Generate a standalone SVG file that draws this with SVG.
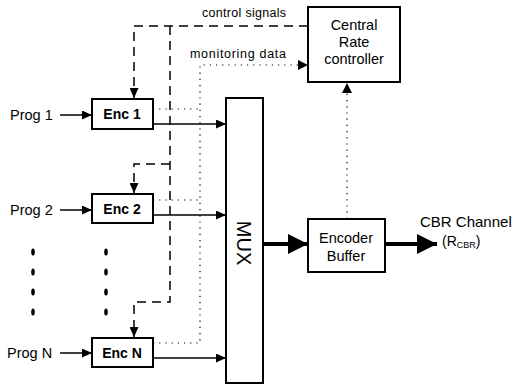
<svg xmlns="http://www.w3.org/2000/svg" width="513" height="386" viewBox="0 0 513 386">
<defs>
<style>
.box{fill:#fff;stroke:#000;stroke-width:2}
.t{font-family:"Liberation Sans",Arial,sans-serif;fill:#000}
.enc{font-size:14px;font-weight:bold;text-anchor:middle}
.prog{font-size:14.5px}
.small{font-size:12.5px}
.mid{font-size:14.5px;text-anchor:middle}
.solid{stroke:#000;stroke-width:1.5;fill:none}
.thick{stroke:#000;stroke-width:4;fill:none}
.dash{stroke:#000;stroke-width:1.5;fill:none;stroke-dasharray:9 6}
.dot{stroke:#000;stroke-width:1.2;fill:none;stroke-dasharray:1.2 5}
</style>
<marker id="ah" markerWidth="10" markerHeight="9" refX="10" refY="4.5" orient="auto" markerUnits="userSpaceOnUse"><path d="M0,0 L10,4.5 L0,9 z" fill="#000"/></marker>
<marker id="big" markerWidth="20" markerHeight="20" refX="20" refY="10" orient="auto" markerUnits="userSpaceOnUse"><path d="M0,0 L20,10 L0,20 z" fill="#000"/></marker>
</defs>
<g id="connectors">
<line class="solid" x1="60" y1="115" x2="92" y2="115" marker-end="url(#ah)"/>
<line class="solid" x1="60" y1="210" x2="92" y2="210" marker-end="url(#ah)"/>
<line class="solid" x1="60" y1="353" x2="92" y2="353" marker-end="url(#ah)"/>
<line class="solid" x1="153" y1="124" x2="226" y2="124" marker-end="url(#ah)"/>
<line class="solid" x1="153" y1="215" x2="226" y2="215" marker-end="url(#ah)"/>
<line class="solid" x1="153" y1="358" x2="226" y2="358" marker-end="url(#ah)"/>
<path class="dash" d="M308,26 L134,26 L134,98" marker-end="url(#ah)"/>
<path class="dash" d="M170,26 L170,302 L134,302 L134,337" marker-end="url(#ah)"/>
<path class="dash" d="M170,164 L134,164 L134,193" marker-end="url(#ah)"/>
<path class="dot" d="M153,109 L200,109"/>
<path class="dot" d="M153,200 L200,200"/>
<path class="dot" d="M153,343 L200,343 L200,65 L300,65"/>
<path d="M298,60 L308,65 L298,70 z" fill="#000"/>
<path class="dot" d="M347,219 L347,92"/>
<path d="M342,93 L347,83 L352,93 z" fill="#000"/>
<line class="thick" x1="263" y1="244" x2="308" y2="244" marker-end="url(#big)"/>
<line class="thick" x1="385" y1="244" x2="437" y2="244" marker-end="url(#big)"/>
</g>
<g id="prog1"><text class="t prog" x="10" y="120">Prog 1</text></g>
<g id="prog2"><text class="t prog" x="10" y="215">Prog 2</text></g>
<g id="progN"><text class="t prog" x="7" y="358">Prog N</text></g>
<g id="enc1"><rect class="box" x="92" y="99" width="61" height="30"/><text class="t enc" x="122" y="119">Enc 1</text></g>
<g id="enc2"><rect class="box" x="92" y="194" width="61" height="29"/><text class="t enc" x="122" y="214">Enc 2</text></g>
<g id="encN"><rect class="box" x="92" y="338" width="61" height="29"/><text class="t enc" x="122" y="358">Enc N</text></g>
<g id="dots" fill="#000">
<ellipse cx="33" cy="252" rx="1.8" ry="3.5"/><ellipse cx="33" cy="272" rx="1.8" ry="3.5"/><ellipse cx="33" cy="292" rx="1.8" ry="3.5"/><ellipse cx="33" cy="312" rx="1.8" ry="3.5"/>
<ellipse cx="106" cy="252" rx="1.8" ry="3.5"/><ellipse cx="106" cy="272" rx="1.8" ry="3.5"/><ellipse cx="106" cy="292" rx="1.8" ry="3.5"/><ellipse cx="106" cy="312" rx="1.8" ry="3.5"/>
</g>
<g id="mux"><rect class="box" x="226" y="98" width="37" height="285"/><text class="t" font-size="20" text-anchor="middle" transform="translate(237,243) rotate(90)">MUX</text></g>
<g id="controller"><rect class="box" x="308" y="7" width="92" height="75" stroke-width="2.5"/><text class="t mid" x="354" y="30">Central</text><text class="t mid" x="354" y="47">Rate</text><text class="t mid" x="354" y="64">controller</text></g>
<g id="buffer"><rect class="box" x="308" y="219" width="77" height="53"/><text class="t mid" font-size="15" x="346" y="243">Encoder</text><text class="t mid" font-size="15" x="346" y="261">Buffer</text></g>
<g id="labels">
<text class="t small" x="202" y="17" letter-spacing="0.3">control signals</text>
<text class="t small" x="190" y="58" letter-spacing="0.7">monitoring data</text>
<text class="t" font-size="15" x="420" y="227">CBR Channel</text>
<text class="t" font-size="14" x="442" y="246">(R<tspan font-size="9" dy="2">CBR</tspan><tspan dy="-2">)</tspan></text>
</g>
</svg>
